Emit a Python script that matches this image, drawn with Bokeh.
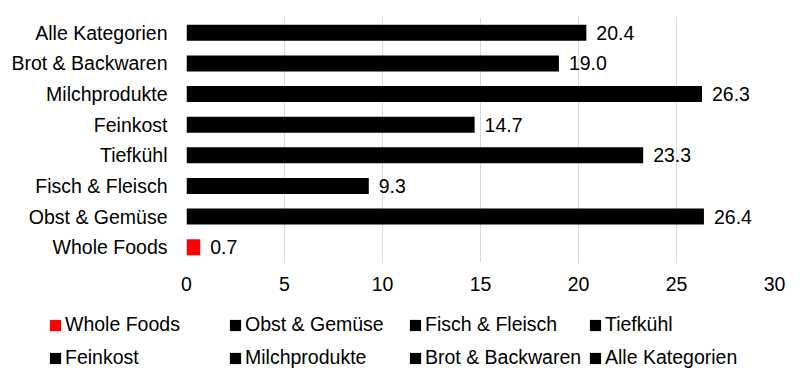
from bokeh.plotting import figure
from bokeh.models import ColumnDataSource, Legend, LegendItem, FactorRange, Range1d, FixedTicker
from bokeh.layouts import column, row
from bokeh.core.properties import value
from bokeh.embed import file_html
from bokeh.resources import INLINE

categories = ["Whole Foods", "Obst & Gemüse", "Fisch & Fleisch", "Tiefkühl",
              "Feinkost", "Milchprodukte", "Brot & Backwaren", "Alle Kategorien"]
values = [0.7, 26.4, 9.3, 23.3, 14.7, 26.3, 19.0, 20.4]
colors = ["#ff0000", "#000000", "#000000", "#000000",
          "#000000", "#000000", "#000000", "#000000"]
x_ticks = [0, 5, 10, 15, 20, 25, 30]

FONT = "Liberation Sans"
FS = "19.5px"

p = figure(width=800, height=300, output_backend="svg", toolbar_location=None,
           y_range=FactorRange(factors=categories, range_padding=0),
           x_range=Range1d(0, 30),
           min_border_left=186, min_border_right=26, min_border_top=17, min_border_bottom=38)
p.outline_line_color = None
p.background_fill_color = None
p.border_fill_color = "white"

for cat, v, c in zip(categories, values, colors):
    src = ColumnDataSource(dict(y=[cat], right=[v], label=[f"{v:.1f}"]))
    p.hbar(y="y", right="right", left=0, height=0.52, source=src,
           fill_color=c, line_color=None)
    p.text(x="right", y="y", text="label", source=src, x_offset=10,
           text_baseline="middle", text_align="left",
           text_font=value(FONT), text_font_size=FS, text_color="#000000")

p.xaxis.ticker = FixedTicker(ticks=x_ticks)
p.xaxis.axis_line_color = None
p.xaxis.major_tick_line_color = None
p.xaxis.minor_tick_line_color = None
p.xaxis.major_label_text_font = FONT
p.xaxis.major_label_text_font_size = FS
p.xaxis.major_label_text_color = "#000000"
p.xaxis.major_label_standoff = 8

p.yaxis.axis_line_color = None
p.yaxis.major_tick_line_color = None
p.yaxis.major_label_text_font = FONT
p.yaxis.major_label_text_font_size = FS
p.yaxis.major_label_text_color = "#000000"
p.yaxis.major_label_standoff = 13

p.xgrid.grid_line_color = "#d9d9d9"
p.xgrid.grid_line_width = 1
p.ygrid.grid_line_color = None

# legend strip
lg = figure(width=800, height=82, output_backend="svg", toolbar_location=None,
            x_axis_type=None, y_axis_type=None, min_border=0,
            x_range=Range1d(0, 1), y_range=Range1d(0, 1))
lg.outline_line_color = None
lg.grid.grid_line_color = None
items = []
for cat, c in zip(categories, colors):
    r = lg.quad(left=[-10], right=[-9], bottom=[-10], top=[-9],
                fill_color=c, line_color=None)
    items.append(LegendItem(label=cat, renderers=[r]))

legend = Legend(items=items, orientation="horizontal", ncols=4,
                location=(48, 8),
                label_text_font=FONT, label_text_font_size=FS,
                label_text_color="#000000",
                glyph_width=14, glyph_height=14, label_standoff=3,
                label_width=163, label_height=33, spacing=0, padding=0, margin=0,
                background_fill_alpha=0, border_line_color=None)
lg.add_layout(legend, "center")

layout = column(p, row(lg), spacing=0)
open("out.html", "w").write(file_html(layout, INLINE))
